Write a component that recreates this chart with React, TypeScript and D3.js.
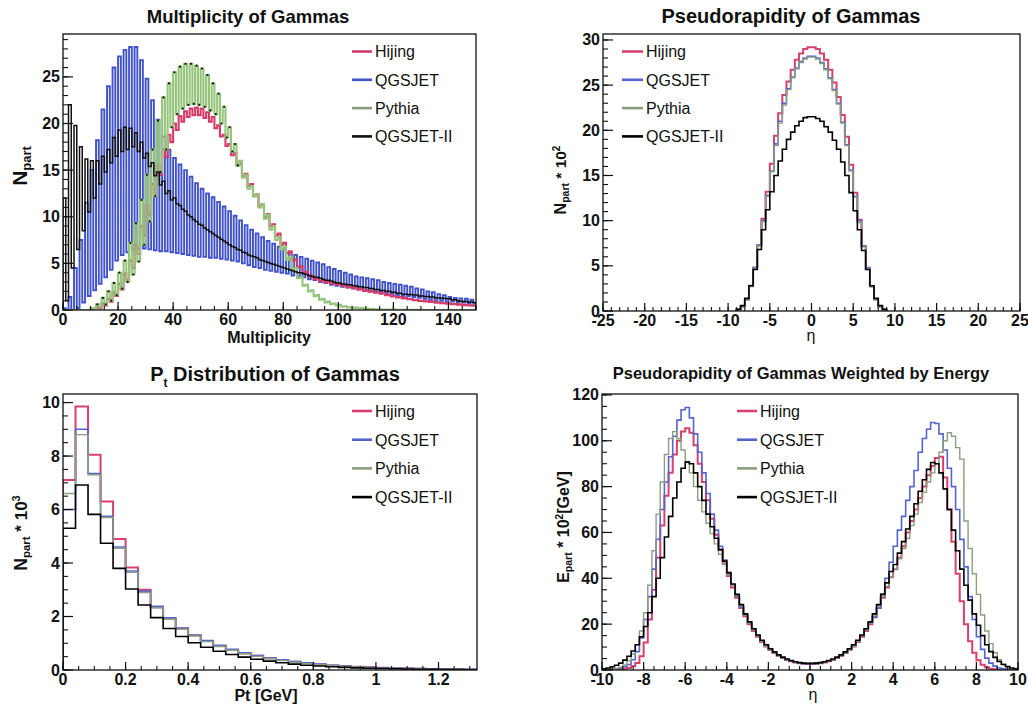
import React from 'react';
import * as d3 from 'd3';

const FONT = "'Liberation Sans', Arial, Helvetica, sans-serif";
const seriesNames = ['Hijing', 'QGSJET', 'Pythia', 'QGSJET-II'];

// ---------- Multiplicity of Gammas (bin width 1, 0..150), even / odd bins ----------
const multQgsjetEven = [0.2,1.4,4.5,7.5,11.5,15,18.2,21.5,24,26,27.2,27.9,28.2,28.2,26.8,24.8,22.5,20.4,18.6,17.2,16.3,15.6,15.0,14.3,13.6,13.0,12.5,12.1,11.6,11.1,10.6,10.1,9.6,9.1,8.6,8.2,7.8,7.4,7.1,6.8,6.5,6.2,5.9,5.7,5.5,5.3,5.1,4.9,4.6,4.4,4.2,4.0,3.8,3.6,3.5,3.4,3.3,3.2,3.0,2.9,2.8,2.7,2.6,2.5,2.3,2.2,2.0,1.9,1.7,1.6,1.4,1.3,1.25,1.2,1.1];
const multQgsjetOdd = [0,0,0.2,0.8,1.5,2.1,2.8,3.5,4.3,5.3,5.9,6.2,6.5,6.6,6.6,6.5,6.4,6.3,6.3,6.2,6.1,6.0,5.9,5.8,5.7,5.7,5.6,5.6,5.5,5.4,5.3,5.2,5.0,4.8,4.6,4.5,4.3,4.2,4.1,4.0,3.9,3.7,3.6,3.5,3.3,3.2,3.0,2.9,2.7,2.6,2.5,2.4,2.3,2.2,2.1,2.0,2.0,1.9,1.8,1.7,1.6,1.5,1.5,1.4,1.3,1.2,1.1,1.0,1.0,0.9,0.9,0.8,0.8,0.7,0.7];
const multQgsjet2Even = [12,22,19.8,17.5,16.2,16,16,16.5,17.2,18.5,19.3,19.6,19.5,19,18,16.8,15.8,14.8,13.8,12.8,12,11.2,10.6,10,9.5,9.1,8.6,8.2,7.8,7.4,7.0,6.7,6.4,6.1,5.8,5.6,5.3,5.1,4.9,4.7,4.5,4.3,4.1,4.0,3.8,3.6,3.5,3.3,3.2,3.0,2.9,2.8,2.7,2.6,2.5,2.4,2.3,2.2,2.1,2.0,1.9,1.8,1.7,1.65,1.6,1.5,1.45,1.4,1.3,1.25,1.2,1.1,0.95,0.9,0.85];
const multQgsjet2Odd = [1,4.5,6.5,8.5,10.5,12,13.5,14.8,15.8,16.5,17,17.2,17.5,17,16.3,15.4,14.4,13.4,12.5,11.8,11.4,10.8,10.2,9.7,9.2,8.8,8.4,8.0,7.6,7.2,6.8,6.5,6.2,5.9,5.7,5.4,5.2,5.0,4.8,4.6,4.4,4.2,4.0,3.9,3.7,3.5,3.4,3.2,3.1,2.9,2.8,2.7,2.6,2.5,2.4,2.3,2.2,2.1,2.0,1.9,1.8,1.7,1.65,1.6,1.5,1.45,1.4,1.3,1.25,1.2,1.1,1.0,0.9,0.85,0.8];
const multPythiaEven = [0,0,0,0,0,0.2,0.6,1.3,2.0,2.9,4.0,5.3,7.2,9.3,11.8,14.5,17.2,20.3,22.8,24.3,25.5,26.1,26.4,26.4,26.2,25.9,25.2,24.3,23.2,21.8,19.6,17.8,16.0,14.5,13.3,12.4,11.3,10.2,9.0,7.8,6.8,5.7,4.5,3.5,2.7,2.1,1.6,1.2,0.9,0.7,0.55,0.4,0.3,0.25,0.2,0.15,0.1,0.08,0.06,0.05,0.04,0.03,0.02,0.02,0.01,0.01,0,0,0,0,0,0,0,0,0];
const multPythiaOdd = [0,0,0,0,0,0.1,0.3,0.6,1.0,1.6,2.3,3.0,3.8,5.2,7.0,9.5,12.2,14.8,17.2,19.6,21.0,21.6,22.0,22.1,22.0,21.8,21.4,21.0,20.0,18.5,17.0,15.5,14.2,13.0,12.2,11.0,9.8,8.6,7.5,6.5,5.4,4.3,3.4,2.6,2.0,1.5,1.1,0.8,0.65,0.5,0.35,0.28,0.22,0.18,0.13,0.09,0.07,0.05,0.04,0.03,0.02,0.02,0.01,0.01,0,0,0,0,0,0,0,0,0,0,0];
const multHijingEven = [0,0,0,0,0,0,0.3,0.7,1.2,1.9,2.8,3.9,5.3,7.0,9.0,11.2,13.5,15.5,17.3,18.8,20.0,20.8,21.3,21.6,21.7,21.6,21.2,20.7,19.8,18.8,17.8,16.8,15.7,14.6,13.5,12.4,11.3,10.3,9.2,8.2,7.2,6.3,5.4,4.7,4.1,3.7,3.4,3.2,3.0,2.9,2.8,2.65,2.5,2.4,2.25,2.1,2.0,1.9,1.8,1.65,1.5,1.4,1.3,1.2,1.1,1.0,0.95,0.9,0.8,0.75,0.7,0.65,0.6,0.55,0.5];
const multHijingOdd = [0,0,0,0,0,0,0.2,0.5,0.9,1.5,2.2,3.2,4.5,6.0,8.0,10.2,12.4,14.5,16.4,18.0,19.3,20.2,20.7,20.9,20.9,20.6,20.2,19.5,18.6,17.6,16.6,15.5,14.4,13.3,12.2,11.1,10.0,9.0,8.0,7.0,6.1,5.3,4.6,4.0,3.6,3.3,3.1,2.95,2.85,2.75,2.6,2.45,2.35,2.2,2.05,1.95,1.85,1.75,1.6,1.45,1.35,1.25,1.15,1.05,0.98,0.92,0.85,0.78,0.72,0.68,0.62,0.58,0.52,0.48,0.45];

// ---------- Pseudorapidity of Gammas (bin width 0.5, -9..9), N * 10^2 ----------
const etaHijing = [0.15,0.5,1.3,2.8,4.8,7.3,10.2,13.2,16.3,19.4,21.9,23.9,25.4,26.7,27.8,28.5,29.0,29.2,29.2,29.0,28.5,27.8,26.7,25.3,23.7,21.7,19.3,16.2,13.1,10.1,7.2,4.7,2.7,1.3,0.5,0.15];
const etaQgsjet = [0.15,0.5,1.3,2.8,4.8,7.3,10.0,12.8,15.5,18.5,21.0,23.0,24.6,25.9,26.9,27.6,28.0,28.2,28.2,28.0,27.5,26.8,25.8,24.5,23.0,20.9,18.4,15.6,12.7,10.0,7.2,4.8,2.8,1.3,0.5,0.15];
const etaPythia = [0.15,0.5,1.2,2.7,4.7,7.2,9.9,12.7,15.4,18.3,20.8,22.8,24.5,25.8,26.8,27.5,27.9,28.1,28.1,27.9,27.4,26.7,25.7,24.4,22.9,20.8,18.3,15.5,12.6,9.8,7.1,4.7,2.7,1.2,0.5,0.15];
const etaQgsjet2 = [0.2,0.6,1.4,2.8,4.6,6.8,9.0,11.2,13.2,15.0,16.6,17.9,19.0,19.8,20.5,21.0,21.4,21.5,21.5,21.3,21.0,20.4,19.8,18.9,17.9,16.5,15.0,13.1,11.1,9.0,6.7,4.6,2.8,1.4,0.6,0.2];

// ---------- Pt distribution (bin width 0.04, 0..1.32), N * 10^3 ----------
const ptHijing = [7.1,9.85,8.05,6.3,4.9,3.83,3.0,2.35,1.93,1.55,1.3,1.08,0.9,0.75,0.63,0.53,0.44,0.37,0.31,0.26,0.21,0.17,0.14,0.12,0.1,0.08,0.065,0.055,0.045,0.035,0.03,0.025,0.02];
const ptQgsjet = [6.0,9.0,7.35,5.75,4.6,3.7,2.95,2.38,1.95,1.57,1.3,1.1,0.92,0.77,0.64,0.54,0.45,0.38,0.32,0.27,0.22,0.18,0.15,0.12,0.1,0.085,0.07,0.06,0.05,0.04,0.035,0.03,0.025];
const ptPythia = [6.6,8.8,7.3,5.7,4.55,3.65,2.9,2.33,1.9,1.53,1.27,1.06,0.88,0.74,0.61,0.51,0.42,0.35,0.29,0.24,0.2,0.16,0.13,0.11,0.09,0.07,0.06,0.05,0.04,0.03,0.025,0.02,0.015];
const ptQgsjet2 = [5.3,6.92,5.82,4.74,3.8,3.03,2.43,1.96,1.55,1.25,1.02,0.85,0.7,0.58,0.48,0.4,0.33,0.27,0.22,0.18,0.15,0.12,0.1,0.08,0.065,0.055,0.045,0.035,0.03,0.025,0.02,0.015,0.01];

// ---------- Pseudorapidity weighted by energy (bin width 0.2, -10..10), E * 10^2 [GeV] ----------
const eEtaHijing = [0.05,0.1,0.15,0.2,0.3,0.5,0.9,1.6,3,6,12,22,35,49,63,76,86,94,100,104,105.5,103.5,98,90,82,74,66,59,52.5,46.5,41,36,31.5,27,23.5,20,17,14.5,12.2,10.3,8.8,7.4,6.2,5.2,4.4,3.8,3.3,2.9,2.7,2.6,
  2.6,2.7,2.9,3.3,3.8,4.4,5.2,6.2,7.4,8.8,10.3,12.2,14.5,17,20,23,27,31.5,36,40.5,44,49,54,60,65,70,75,80,85,89,92.5,93,84,70,56,42,30,20,12.5,7.5,4.2,2.3,1.2,0.6,0.3,0.15,0.1,0.05,0.03,0.02];
const eEtaQgsjet = [0.1,0.2,0.3,0.5,0.8,1.4,2.4,4.5,8,14,22,32,44,57,70,82,93,102,109,113.5,114.5,110,103,95,86,77,68,61,54,48,42,37,32,27.5,24,20.5,17.5,15,12.5,10.5,9,7.5,6.3,5.3,4.5,3.9,3.4,3.0,2.8,2.7,
  2.7,2.8,3.0,3.4,3.9,4.5,5.3,6.3,7.5,9,10.5,12.5,15,17.5,20.5,23,27,33,40,47,54,61,67,74,80,87,95,101,105,108,107.5,103,96,88,80,70,57,45,32,22,14.5,9,5.2,3,1.7,0.9,0.5,0.3,0.2,0.1];
const eEtaPythia = [0.1,0.2,0.4,0.7,1.2,2.2,4,7,11,17,25,37,52,68,82,94,101,104,101,96,91,86,80,74,69,64,59.5,55,50.5,46,41.5,37,32.5,28,24,20.5,17.5,15,12.5,10.5,9,7.6,6.4,5.4,4.6,4.0,3.5,3.1,2.9,2.8,
  2.8,2.9,3.1,3.5,4.0,4.6,5.4,6.4,7.6,9,10.5,12.5,15,17.5,20.5,24,28,32,36.5,40.5,44,48.5,53,57.5,63,68,73,77.5,82,86,90,95,100,103.5,102,97,92,65,53,42,33,24,17,11.5,7.5,4.5,2.5,1.3,0.6,0.3];
const eEtaQgsjet2 = [0.5,0.9,1.4,2.1,3,4.3,6,8.3,11,14.5,19,25,32,40,49,58,67,75,82,88,90.7,90,86,80,74,68,62.5,57.5,52.5,47.5,42.5,37.5,33,28.5,24.5,21,18,15.3,13,11,9.3,7.9,6.6,5.6,4.8,4.1,3.6,3.2,3.0,2.9,
  2.9,3.0,3.2,3.6,4.1,4.8,5.6,6.6,7.9,9.3,11,13,15.3,18,21,24.5,28.5,33,38,43,46,51,56,61.5,67,72.5,78,83,87.5,90.5,90,86,79,70,61,52,44,37,30.5,24.5,19.5,15,11,8,5.5,3.7,2.4,1.5,0.9,0.5];

function interleave(even: number[], odd: number[]): number[] {
  const out: number[] = [];
  for (let i = 0; i < even.length; i++) { out.push(even[i]); out.push(odd[i]); }
  return out;
}

const multHijing = interleave(multHijingEven, multHijingOdd);
const multQgsjet = interleave(multQgsjetEven, multQgsjetOdd);
const multPythia = interleave(multPythiaEven, multPythiaOdd);
const multQgsjet2 = interleave(multQgsjet2Even, multQgsjet2Odd);

const C = {
  hijing: '#d8406e',
  qgsjet: '#5565cf',
  pythia: '#8a9f7e',
  qgsjet2: '#000000',
};

type Series = { values: number[]; x0: number; w: number; color: string; width: number; dots?: boolean; dotLimit?: number };

type PanelProps = {
  id: string;
  left: number; right: number; top: number; bottom: number;
  xDomain: [number, number]; yDomain: [number, number];
  xMajor: number[]; xMinor: number[]; yMajor: number[]; yMinor: number[];
  xFmt: (v: number) => string; yFmt: (v: number) => string;
  series: Series[];
  title: React.ReactNode; titleX: number; titleY: number; titleSize: number;
  xTitle: React.ReactNode; xTitleX: number; xTitleY: number;
  yTitle: React.ReactNode; yTitleX: number; yTitleY: number;
  legend: { x: number; y: number; dy: number; len: number; colors: string[] };
};

function histPoints(values: number[], x0: number, w: number): [number, number][] {
  const pts: [number, number][] = [[x0, 0]];
  values.forEach((v, i) => {
    pts.push([x0 + i * w, v]);
    pts.push([x0 + (i + 1) * w, v]);
  });
  pts.push([x0 + values.length * w, 0]);
  return pts;
}

function Panel(p: PanelProps) {
  const x = d3.scaleLinear().domain(p.xDomain).range([p.left, p.right]);
  const y = d3.scaleLinear().domain(p.yDomain).range([p.bottom, p.top]);
  const line = d3.line<[number, number]>().x(d => x(d[0])).y(d => y(d[1]));
  const clipId = `clip-${p.id}`;
  const xMajLen = 8, xMinLen = 4, yMajLen = 10, yMinLen = 5;
  return (
    <g>
      <defs>
        <clipPath id={clipId}>
          <rect x={p.left} y={p.top} width={p.right - p.left} height={p.bottom - p.top} />
        </clipPath>
      </defs>
      <g clipPath={`url(#${clipId})`}>
        {p.series.map((s, k) => (
          <g key={k}>
            <path d={line(histPoints(s.values, s.x0, s.w)) || ''} fill="none" stroke={s.color} strokeWidth={s.width} strokeLinejoin="miter" />
            {s.dots && s.values.map((v, i) => (v > 0.3 && i < (s.dotLimit ?? 1e9)) ? (
              <circle key={i} cx={x(s.x0 + (i + 0.5) * s.w)} cy={y(v)} r={1.1} fill="#111" />
            ) : null)}
          </g>
        ))}
      </g>
      <rect x={p.left} y={p.top} width={p.right - p.left} height={p.bottom - p.top} fill="none" stroke="#111" strokeWidth={1.3} />
      {p.xMinor.map((v, i) => (
        <line key={`xm${i}`} x1={x(v)} x2={x(v)} y1={p.bottom} y2={p.bottom - xMinLen} stroke="#111" strokeWidth={1.1} />
      ))}
      {p.xMajor.map((v, i) => (
        <line key={`xM${i}`} x1={x(v)} x2={x(v)} y1={p.bottom} y2={p.bottom - xMajLen} stroke="#111" strokeWidth={1.2} />
      ))}
      {p.yMinor.map((v, i) => (
        <line key={`ym${i}`} x1={p.left} x2={p.left + yMinLen} y1={y(v)} y2={y(v)} stroke="#111" strokeWidth={1.1} />
      ))}
      {p.yMajor.map((v, i) => (
        <line key={`yM${i}`} x1={p.left} x2={p.left + yMajLen} y1={y(v)} y2={y(v)} stroke="#111" strokeWidth={1.2} />
      ))}
      {p.xMajor.map((v, i) => (
        <text key={`xl${i}`} x={x(v)} y={p.bottom + 15} textAnchor="middle" fontFamily={FONT} fontWeight="bold" fontSize={16} fill="#111">{p.xFmt(v)}</text>
      ))}
      {p.yMajor.map((v, i) => (
        <text key={`yl${i}`} x={p.left - 3} y={y(v) + 5.5} textAnchor="end" fontFamily={FONT} fontWeight="bold" fontSize={16} fill="#111">{p.yFmt(v)}</text>
      ))}
      <text x={p.titleX} y={p.titleY} textAnchor="middle" fontFamily={FONT} fontWeight="bold" fontSize={p.titleSize} fill="#111">{p.title}</text>
      <text x={p.xTitleX} y={p.xTitleY} textAnchor="middle" fontFamily={FONT} fontSize={16} fill="#111">{p.xTitle}</text>
      <text transform={`translate(${p.yTitleX},${p.yTitleY}) rotate(-90)`} textAnchor="middle" fontFamily={FONT} fontWeight="bold" fill="#111">{p.yTitle}</text>
      {seriesNames.map((name, i) => (
        <g key={name}>
          <line x1={p.legend.x} x2={p.legend.x + p.legend.len} y1={p.legend.y + i * p.legend.dy} y2={p.legend.y + i * p.legend.dy} stroke={p.legend.colors[i]} strokeWidth={2.6} />
          <text x={p.legend.x + p.legend.len + 3} y={p.legend.y + i * p.legend.dy + 5.8} fontFamily={FONT} fontSize={16} fill="#111">{name}</text>
        </g>
      ))}
    </g>
  );
}

const intFmt = (v: number) => String(Math.round(v));
const ptFmt = (v: number) => String(Math.round(v * 10) / 10);

export default function App() {
  const legendColors = [C.hijing, C.qgsjet, C.pythia, C.qgsjet2];
  return (
    <div style={{ position: 'absolute', left: 0, top: 0, background: '#fff' }}>
      <svg width={1028} height={709} viewBox="0 0 1028 709" style={{ display: 'block', background: '#fff' }}>
        <Panel
          id="mult"
          left={63} right={476} top={34} bottom={310}
          xDomain={[0, 150]} yDomain={[0, 29.6]}
          xMajor={d3.range(0, 141, 20)} xMinor={d3.range(0, 151, 5)}
          yMajor={d3.range(0, 26, 5)} yMinor={d3.range(0, 29.6, 1)}
          xFmt={intFmt} yFmt={intFmt}
          series={[
            { values: multQgsjet, x0: 0, w: 1, color: '#3f52c9', width: 1.9 },
            { values: multHijing, x0: 0, w: 1, color: '#d63a68', width: 2.1 },
            { values: multPythia, x0: 0, w: 1, color: '#94c47a', width: 2.1, dots: true, dotLimit: 64 },
            { values: multQgsjet2, x0: 0, w: 1, color: '#111', width: 1.5 },
          ]}
          title="Multiplicity of Gammas" titleX={248} titleY={23} titleSize={18.5}
          xTitle={<tspan fontWeight="bold">Multiplicity</tspan>} xTitleX={269} xTitleY={343}
          yTitle={<><tspan fontSize={21}>N</tspan><tspan fontSize={13} dy={4}>part</tspan></>} yTitleX={27} yTitleY={166}
          legend={{ x: 352, y: 51.5, dy: 28.3, len: 20, colors: ['#d63a68', '#3f52c9', '#8a9f7e', '#111'] }}
        />
        <Panel
          id="eta"
          left={603} right={1020} top={34} bottom={311}
          xDomain={[-25, 25]} yDomain={[0, 30.66]}
          xMajor={d3.range(-25, 26, 5)} xMinor={d3.range(-25, 26, 1)}
          yMajor={d3.range(0, 31, 5)} yMinor={d3.range(0, 30.6, 1)}
          xFmt={intFmt} yFmt={intFmt}
          series={[
            { values: etaHijing, x0: -9, w: 0.5, color: C.hijing, width: 2 },
            { values: etaQgsjet, x0: -9, w: 0.5, color: C.qgsjet, width: 1.6 },
            { values: etaPythia, x0: -9, w: 0.5, color: C.pythia, width: 1.4 },
            { values: etaQgsjet2, x0: -9, w: 0.5, color: C.qgsjet2, width: 1.6 },
          ]}
          title="Pseudorapidity of Gammas" titleX={791} titleY={23} titleSize={20}
          xTitle="η" xTitleX={811} xTitleY={341}
          yTitle={<><tspan fontSize={16}>N</tspan><tspan fontSize={10.5} dy={3}>part</tspan><tspan fontSize={15.5} dy={-3}> * 10</tspan><tspan fontSize={10} dy={-6}>2</tspan></>} yTitleX={566} yTitleY={180}
          legend={{ x: 622, y: 51.5, dy: 28.3, len: 21, colors: legendColors }}
        />
        <Panel
          id="pt"
          left={63} right={477} top={394} bottom={670}
          xDomain={[0, 1.323]} yDomain={[0, 10.32]}
          xMajor={d3.range(0, 1.21, 0.2)} xMinor={d3.range(0, 1.323, 0.05)}
          yMajor={d3.range(0, 10.1, 2)} yMinor={d3.range(0, 10.3, 0.5)}
          xFmt={ptFmt} yFmt={intFmt}
          series={[
            { values: ptHijing, x0: 0, w: 0.04, color: C.hijing, width: 2 },
            { values: ptQgsjet, x0: 0, w: 0.04, color: C.qgsjet, width: 1.6 },
            { values: ptPythia, x0: 0, w: 0.04, color: C.pythia, width: 1.4 },
            { values: ptQgsjet2, x0: 0, w: 0.04, color: C.qgsjet2, width: 1.6 },
          ]}
          title={<><tspan>P</tspan><tspan fontSize={12} dy={6}>t</tspan><tspan dy={-6}> Distribution of Gammas</tspan></>} titleX={275} titleY={381} titleSize={20}
          xTitle={<tspan fontWeight="bold">Pt [GeV]</tspan>} xTitleX={266} xTitleY={701}
          yTitle={<><tspan fontSize={17.5}>N</tspan><tspan fontSize={11.5} dy={3}>part</tspan><tspan fontSize={17} dy={-3}> * 10</tspan><tspan fontSize={11} dy={-7}>3</tspan></>} yTitleX={27} yTitleY={533}
          legend={{ x: 352, y: 411, dy: 28.7, len: 20, colors: legendColors }}
        />
        <Panel
          id="eeta"
          left={602} right={1018} top={394} bottom={670}
          xDomain={[-10, 10]} yDomain={[0, 120.4]}
          xMajor={d3.range(-10, 11, 2)} xMinor={d3.range(-10, 10.01, 0.5)}
          yMajor={d3.range(0, 121, 20)} yMinor={d3.range(0, 120.4, 5)}
          xFmt={intFmt} yFmt={intFmt}
          series={[
            { values: eEtaHijing, x0: -10, w: 0.2, color: C.hijing, width: 2 },
            { values: eEtaQgsjet, x0: -10, w: 0.2, color: C.qgsjet, width: 1.6 },
            { values: eEtaPythia, x0: -10, w: 0.2, color: C.pythia, width: 1.4 },
            { values: eEtaQgsjet2, x0: -10, w: 0.2, color: C.qgsjet2, width: 1.6 },
          ]}
          title="Pseudorapidity of Gammas Weighted by Energy" titleX={801} titleY={379} titleSize={16.5}
          xTitle="η" xTitleX={813} xTitleY={700}
          yTitle={<><tspan fontSize={16}>E</tspan><tspan fontSize={10.5} dy={3}>part</tspan><tspan fontSize={16} dy={-3}> * 10</tspan><tspan fontSize={10} dy={-6}>2</tspan><tspan fontSize={16} dy={6}>[GeV]</tspan></>} yTitleX={569} yTitleY={527}
          legend={{ x: 737, y: 411, dy: 28.7, len: 20, colors: legendColors }}
        />
      </svg>
    </div>
  );
}
